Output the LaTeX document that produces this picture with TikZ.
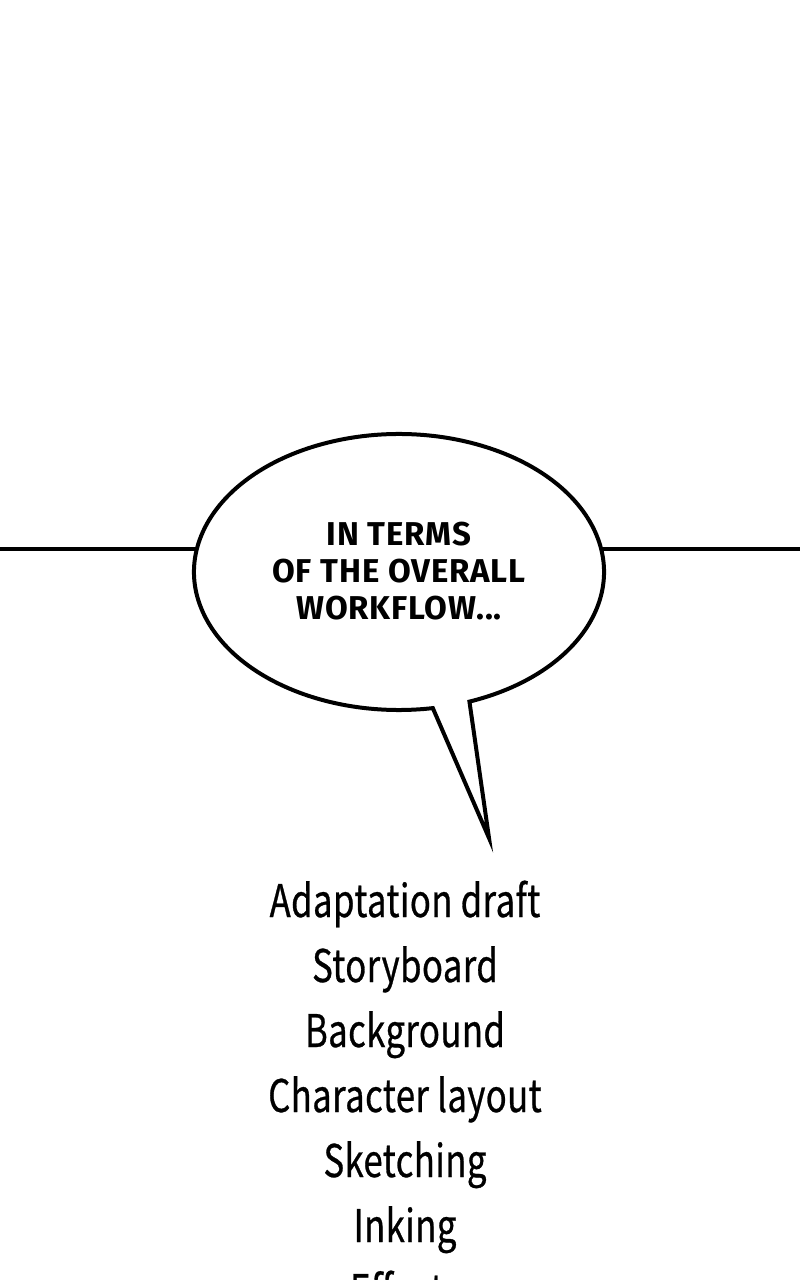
\documentclass[tikz,border=0pt]{standalone}
\usepackage{fontspec}
\setmainfont{Noto Sans CJK KR}[FakeStretch=0.77,FakeBold=0.6,LetterSpace=1]
\newfontfamily\comicfont{Fira Sans}[UprightFont=* Bold,LetterSpace=2.5]
\begin{document}
\begin{tikzpicture}[x=1pt,y=1pt,
  bubbleline/.style={line width=4pt,line join=miter,miter limit=20},
  bubbletext/.style={font=\comicfont\fontsize{33}{33}\selectfont,anchor=base,inner sep=0pt},
  listtext/.style={font=\fontsize{45}{45}\selectfont,anchor=base,inner sep=0pt}]
\useasboundingbox (0,-1280) rectangle (800,0);
\clip (0,-1280) rectangle (800,0);
\fill[white] (0,-1280) rectangle (800,0);
% horizontal panel line
\coordinate (lineL) at (0,-549);
\coordinate (lineLe) at (230,-549);
\coordinate (lineR) at (800,-549);
\coordinate (lineRe) at (570,-549);
\draw[line width=4pt] (lineL) -- (lineLe);
\draw[line width=4pt] (lineRe) -- (lineR);
% speech bubble
\coordinate (c) at (399,-572);
\coordinate (tip) at (489,-838);
\draw[bubbleline,fill=white] ([shift={(c)}]-69.9:205 and 138)
  arc[start angle=-69.9,end angle=279.5,x radius=205,y radius=138]
  -- (tip) -- cycle;
% bubble text
\node[bubbletext] (t1) at (399,-545) {IN TERMS};
\node[bubbletext] (t2) at (399,-582) {OF THE OVERALL};
\node[bubbletext] (t3) at (399,-619) {WORKFLOW...};
% list
\node[listtext] (l1) at (405,-917) {Adaptation draft};
\node[listtext] (l2) at (405,-982) {Storyboard};
\node[listtext] (l3) at (405,-1047) {Background};
\node[listtext] (l4) at (405,-1112) {Character layout};
\node[listtext] (l5) at (405,-1177) {Sketching};
\node[listtext] (l6) at (405,-1242) {Inking};
\node[listtext] (l7) at (405,-1307) {Effects};
\end{tikzpicture}
\end{document}
